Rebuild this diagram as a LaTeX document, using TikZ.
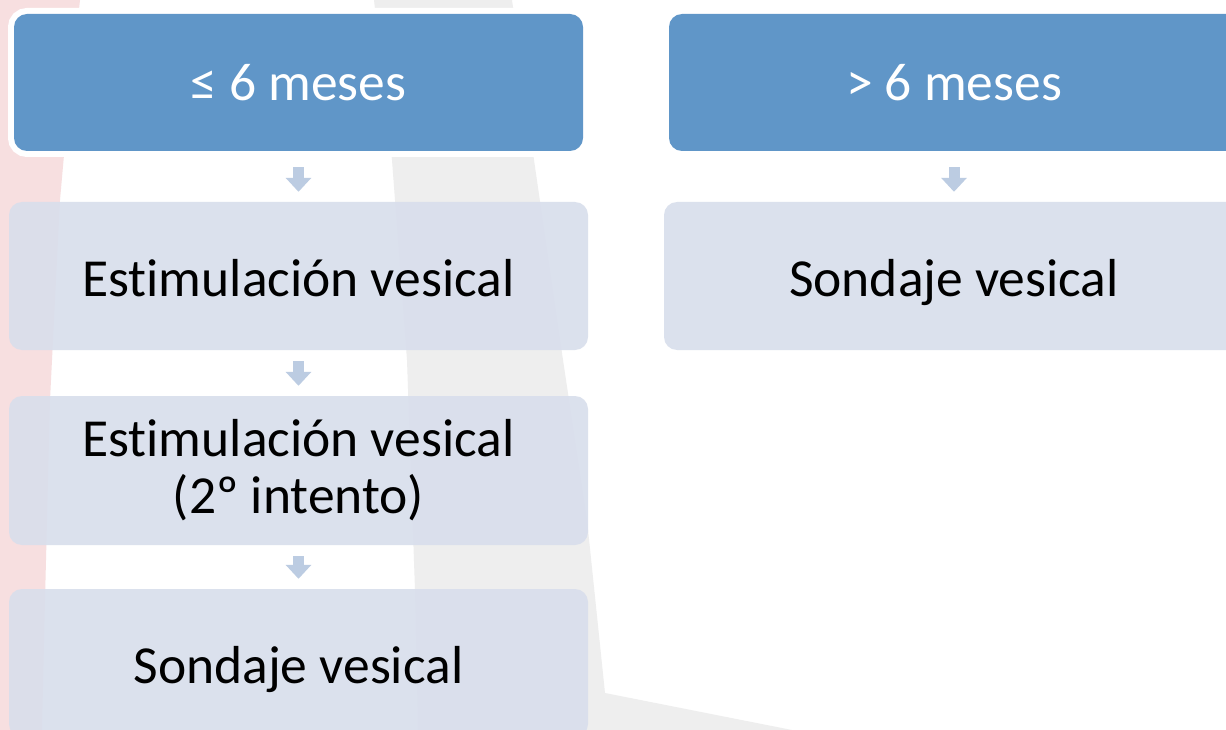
\documentclass[tikz,border=0pt]{standalone}
\usepackage{fontspec}
\setmainfont{Carlito}[Ligatures=NoCommon]
\usetikzlibrary{arrows.meta}
\definecolor{pinkbg}{HTML}{F7DFE0}
\definecolor{greybg}{HTML}{EEEEEE}
\definecolor{darkblue}{HTML}{6096C8}
\definecolor{lightblue}{HTML}{D8DEEC}
\definecolor{arrowc}{HTML}{BCCCE2}
\begin{document}
\begin{tikzpicture}[x=1pt,y=-1pt,
  darkbox/.style={fill=darkblue, rounded corners=13pt, text=white,
    font=\fontsize{53.5}{57}\selectfont, minimum width=569pt, minimum height=137pt,
    inner sep=0pt, text height=37pt, text depth=0pt},
  rim/.style={preaction={draw=white, line width=12pt}},
  lightbox/.style={fill=lightblue, fill opacity=0.9, text opacity=1, rounded corners=13pt,
    font=\fontsize{53.5}{57}\selectfont, minimum width=579pt, minimum height=148pt,
    inner sep=0pt, align=center},
  oneline/.style={text height=40pt, text depth=0pt},
  flow/.style={draw=arrowc, line width=11pt, -{Triangle[width=25pt,length=14pt]}}
]
\useasboundingbox (0,0) rectangle (1226,730);
\begin{scope}
\clip (0,0) rectangle (1226,730);
\fill[white] (0,0) rectangle (1226,730);
\fill[pinkbg] (0,0) -- (80,0) -- (68,110) -- (60,200) -- (50,400) -- (45,600) -- (42,730) -- (0,730) -- cycle;
\fill[greybg] (374,0) -- (512,0) -- (534,160) -- (563,360) -- (587,520) -- (605,693) -- (792,730)
  -- (418,730) -- (415,590) -- (407,360) -- (392,160) -- cycle;

\node[darkbox, rim] (a) at (298.5,82.5) {≤ 6 meses};
\node[darkbox, minimum width=570pt] (b) at (954,82.5) {> 6 meses};
\node[lightbox, oneline] (c) at (298.5,276) {Estimulación vesical};
\node[lightbox, minimum height=149pt] (d) at (298.5,470.5) {Estimulación vesical\\(2º intento)};
\node[lightbox, oneline] (e) at (298.5,663) {Sondaje vesical};
\node[lightbox, oneline, minimum width=580pt] (f) at (954,276) {Sondaje vesical};

\draw[flow] ([yshift=-16pt]a.south) -- ([yshift=10pt]c.north);
\draw[flow] ([yshift=-11pt]c.south) -- ([yshift=10pt]d.north);
\draw[flow] ([yshift=-11pt]d.south) -- ([yshift=10pt]e.north);
\draw[flow] ([yshift=-16pt]b.south) -- ([yshift=10pt]f.north);
\end{scope}
\end{tikzpicture}
\end{document}
